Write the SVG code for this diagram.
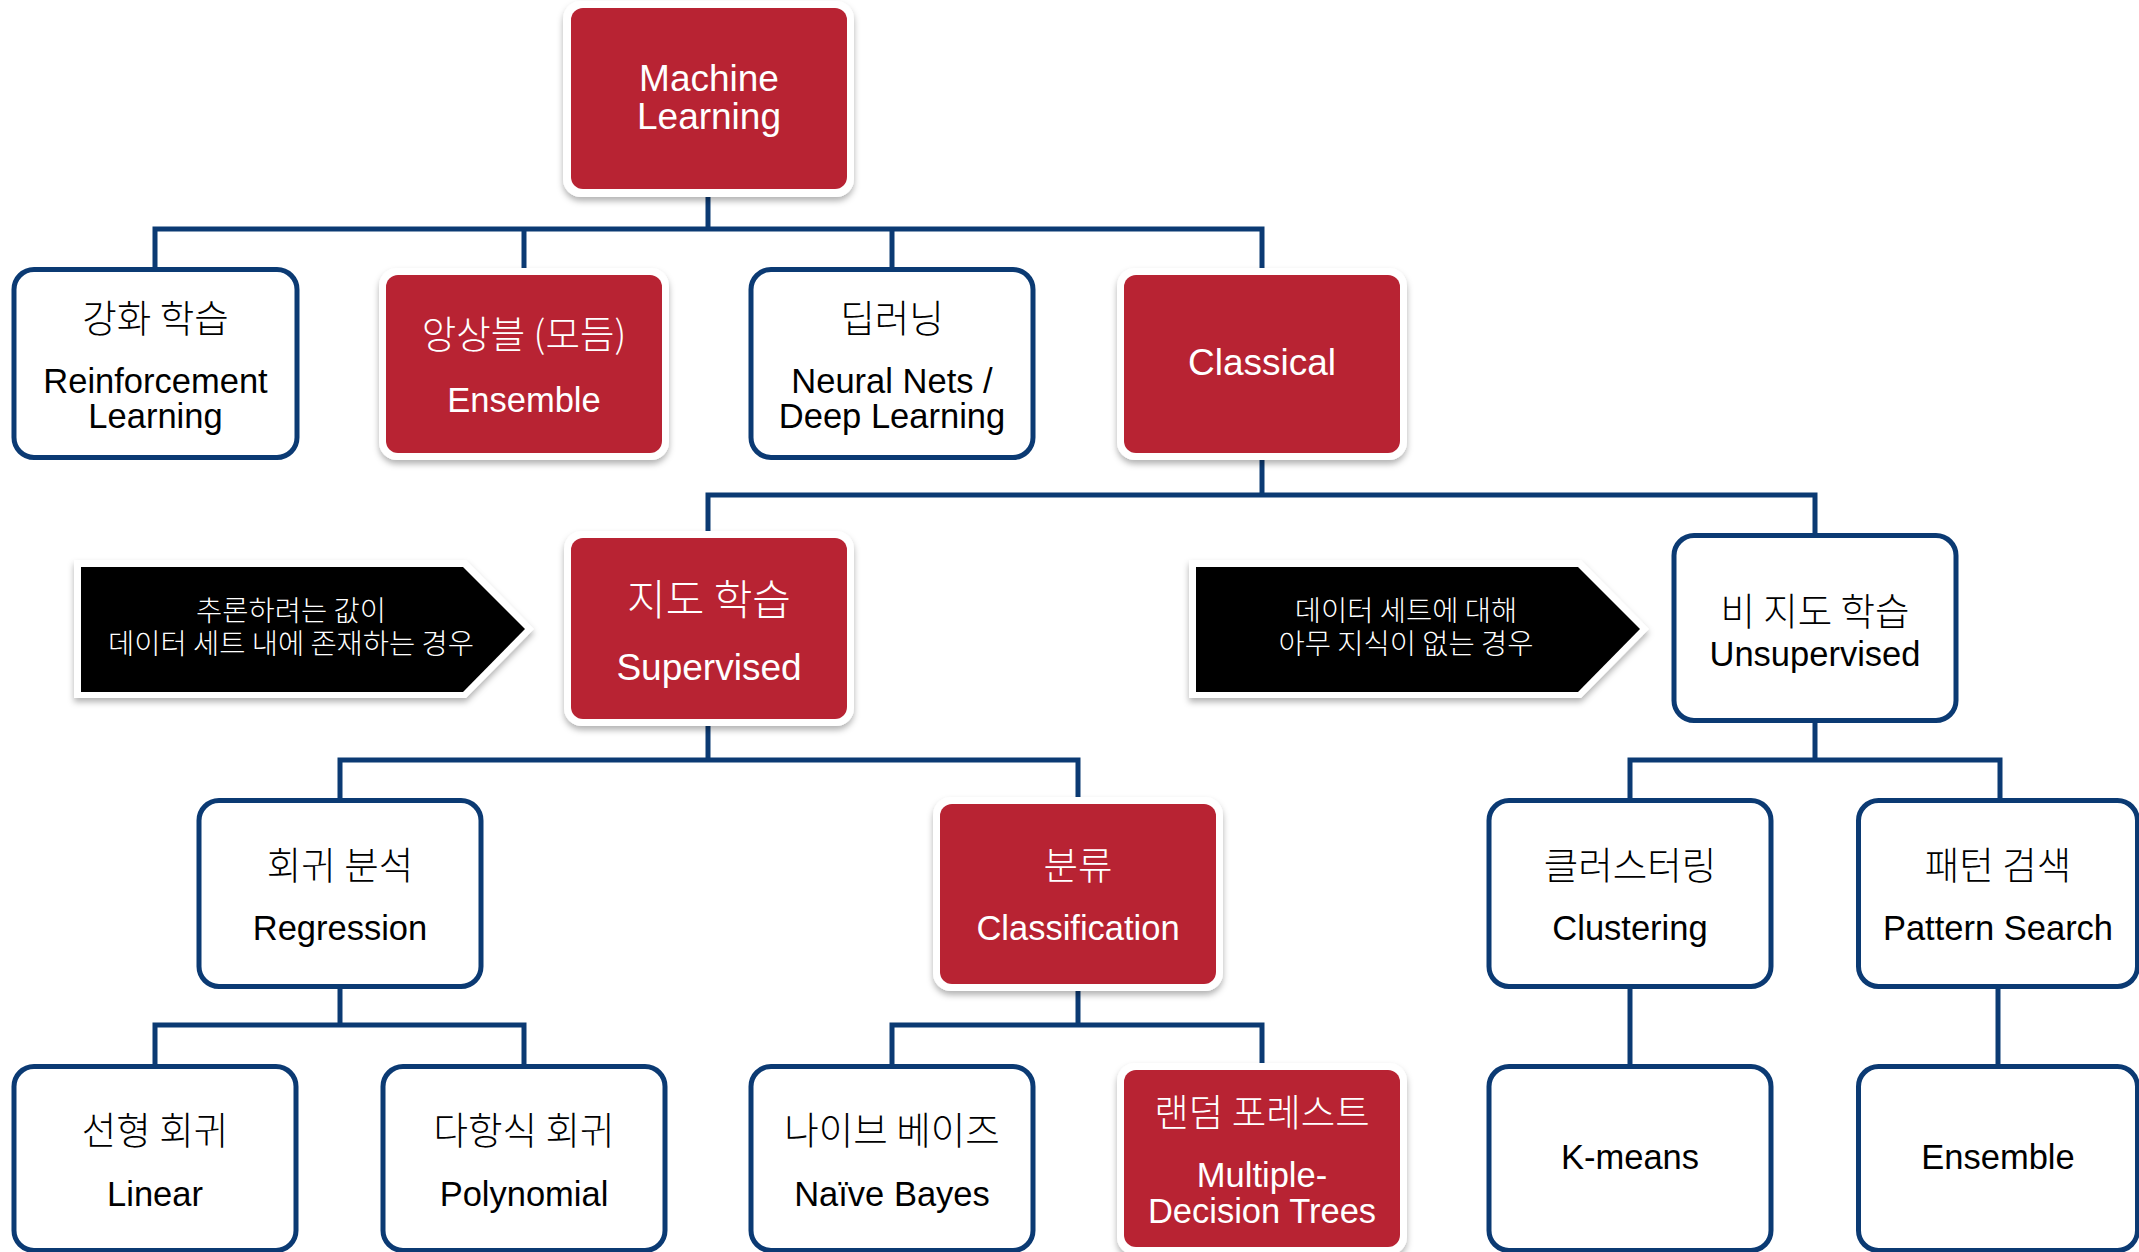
<svg xmlns="http://www.w3.org/2000/svg" width="2139" height="1252" viewBox="0 0 2139 1252">
<style>
.wb{fill:#fff;stroke:#0b3a73;stroke-width:5}
.ro{fill:#fff;filter:url(#sh)}
.rb{fill:#b82333}
.conn{fill:none;stroke:#0b3a73;stroke-width:5;stroke-linejoin:miter;stroke-linecap:butt}
.e{font-family:"Liberation Sans",Arial,sans-serif;font-size:34.5px;text-anchor:middle;fill:#000}
.eb{font-size:37px}
.k{font-family:"Noto Sans CJK KR","Noto Sans CJK SC",sans-serif;font-size:37.5px;font-weight:300;text-anchor:middle;fill:#000}
.kb{font-size:42px}
.ka{font-size:28.5px}
.w{fill:#fff}
.arr{fill:#000}
.arro{fill:#fff;filter:url(#sh)}
</style>
<defs>
<filter id="sh" x="-10%" y="-10%" width="120%" height="125%">
<feDropShadow dx="0" dy="4" stdDeviation="3" flood-color="#000" flood-opacity="0.3"/>
</filter>
</defs>
<rect width="2139" height="1252" fill="#fff"/>
<g id="connectors">
<path class="conn" d="M708 195V229"/>
<path class="conn" d="M155 272V229H1262V272"/>
<path class="conn" d="M524 229V272"/>
<path class="conn" d="M892 229V272"/>
<path class="conn" d="M1262 458V495"/>
<path class="conn" d="M708 535V495H1815V538"/>
<path class="conn" d="M708 725V760"/>
<path class="conn" d="M1815 721V760"/>
<path class="conn" d="M340 803V760H1078V803"/>
<path class="conn" d="M1630 803V760H2000V803"/>
<path class="conn" d="M340 986V1025"/>
<path class="conn" d="M1078 982V1025"/>
<path class="conn" d="M155 1069V1025H524V1069"/>
<path class="conn" d="M892 1069V1025H1262V1069"/>
<path class="conn" d="M1630 986V1069"/>
<path class="conn" d="M1998 986V1069"/>
</g>
<g id="machine-learning">
<rect class="ro" x="563" y="1" width="291" height="196" rx="18"/>
<rect class="rb" x="571" y="8" width="276" height="181" rx="12"/>
<text class="e eb w" x="709" y="91">Machine</text>
<text class="e eb w" x="709" y="129">Learning</text>
</g>
<g id="reinforcement">
<rect class="wb" x="14" y="269.5" width="283" height="188" rx="20"/>
<text class="k" x="155.5" y="332">강화 학습</text>
<text class="e" x="155.5" y="393">Reinforcement</text>
<text class="e" x="155.5" y="428">Learning</text>
</g>
<g id="ensemble-top">
<rect class="ro" x="379" y="268" width="290" height="192" rx="18"/>
<rect class="rb" x="386" y="275" width="276" height="178" rx="12"/>
<text class="k w" x="524" y="348">앙상블 (모듬)</text>
<text class="e w" x="524" y="412">Ensemble</text>
</g>
<g id="deep-learning">
<rect class="wb" x="751" y="269.5" width="282" height="188" rx="20"/>
<text class="k" x="892" y="332">딥러닝</text>
<text class="e" x="892" y="393">Neural Nets /</text>
<text class="e" x="892" y="428">Deep Learning</text>
</g>
<g id="classical">
<rect class="ro" x="1117" y="268" width="290" height="192" rx="18"/>
<rect class="rb" x="1124" y="275" width="276" height="178" rx="12"/>
<text class="e eb w" x="1262" y="375">Classical</text>
</g>
<g id="note-supervised">
<path class="arro" d="M74 560H466L534 629L466 698H74Z"/>
<path class="arr" d="M81 567H463L525 629L463 692H81Z"/>
<text class="k ka w" x="291" y="621">추론하려는 값이</text>
<text class="k ka w" x="291" y="654">데이터 세트 내에 존재하는 경우</text>
</g>
<g id="supervised">
<rect class="ro" x="564" y="531" width="290" height="195" rx="18"/>
<rect class="rb" x="571" y="538" width="276" height="181" rx="12"/>
<text class="k kb w" x="709" y="615">지도 학습</text>
<text class="e eb w" x="709" y="680">Supervised</text>
</g>
<g id="note-unsupervised">
<path class="arro" d="M1189 560H1581L1649 629L1581 698H1189Z"/>
<path class="arr" d="M1196 567H1578L1640 629L1578 692H1196Z"/>
<text class="k ka w" x="1406" y="621">데이터 세트에 대해</text>
<text class="k ka w" x="1406" y="654">아무 지식이 없는 경우</text>
</g>
<g id="unsupervised">
<rect class="wb" x="1674" y="535.5" width="282" height="185" rx="20"/>
<text class="k" x="1815" y="625">비 지도 학습</text>
<text class="e" x="1815" y="666">Unsupervised</text>
</g>
<g id="regression">
<rect class="wb" x="199" y="800.5" width="282" height="186" rx="20"/>
<text class="k" x="340" y="879">회귀 분석</text>
<text class="e" x="340" y="940">Regression</text>
</g>
<g id="classification">
<rect class="ro" x="933" y="797" width="290" height="194" rx="18"/>
<rect class="rb" x="940" y="804" width="276" height="180" rx="12"/>
<text class="k w" x="1078" y="879">분류</text>
<text class="e w" x="1078" y="940">Classification</text>
</g>
<g id="clustering">
<rect class="wb" x="1489" y="800.5" width="282" height="186" rx="20"/>
<text class="k" x="1630" y="879">클러스터링</text>
<text class="e" x="1630" y="940">Clustering</text>
</g>
<g id="pattern-search">
<rect class="wb" x="1858.5" y="800.5" width="279" height="186" rx="20"/>
<text class="k" x="1998" y="879">패턴 검색</text>
<text class="e" x="1998" y="940">Pattern Search</text>
</g>
<g id="linear">
<rect class="wb" x="14" y="1066.5" width="282" height="184" rx="20"/>
<text class="k" x="155" y="1144">선형 회귀</text>
<text class="e" x="155" y="1206">Linear</text>
</g>
<g id="polynomial">
<rect class="wb" x="383" y="1066.5" width="282" height="184" rx="20"/>
<text class="k" x="524" y="1144">다항식 회귀</text>
<text class="e" x="524" y="1206">Polynomial</text>
</g>
<g id="naive-bayes">
<rect class="wb" x="751" y="1066.5" width="282" height="184" rx="20"/>
<text class="k" x="892" y="1144">나이브 베이즈</text>
<text class="e" x="892" y="1206">Naïve Bayes</text>
</g>
<g id="random-forest">
<rect class="ro" x="1117" y="1063" width="290" height="192" rx="18"/>
<rect class="rb" x="1124" y="1070" width="276" height="177" rx="12"/>
<text class="k w" x="1262" y="1126">랜덤 포레스트</text>
<text class="e w" x="1262" y="1187">Multiple-</text>
<text class="e w" x="1262" y="1223">Decision Trees</text>
</g>
<g id="k-means">
<rect class="wb" x="1489" y="1066.5" width="282" height="184" rx="20"/>
<text class="e" x="1630" y="1169">K-means</text>
</g>
<g id="ensemble-bottom">
<rect class="wb" x="1858.5" y="1066.5" width="279" height="184" rx="20"/>
<text class="e" x="1998" y="1169">Ensemble</text>
</g>
</svg>
